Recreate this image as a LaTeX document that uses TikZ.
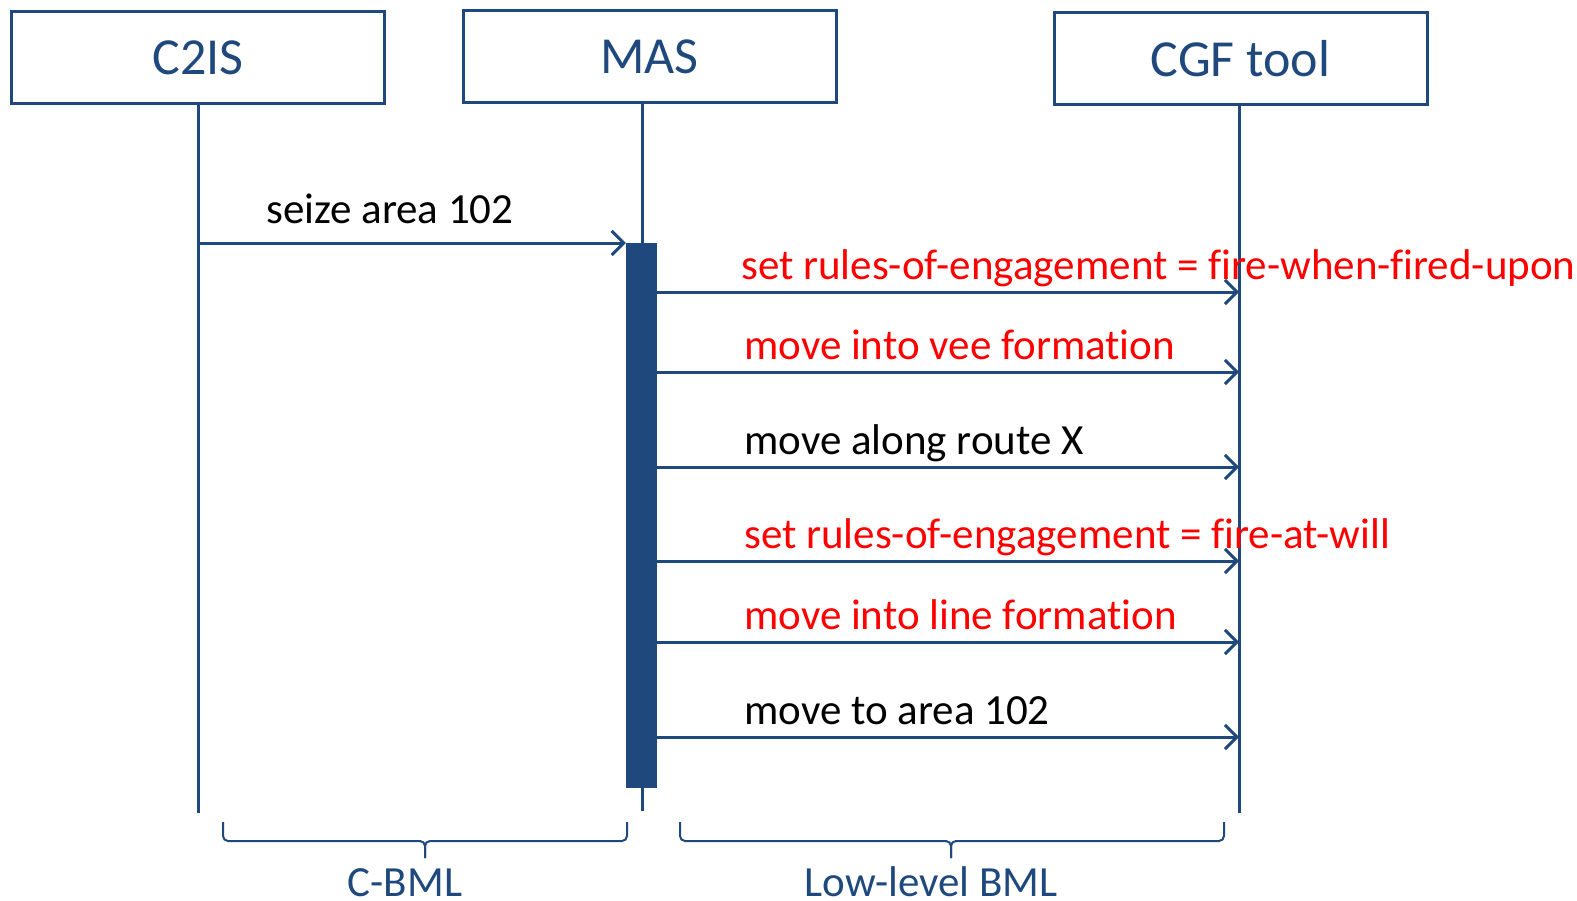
\documentclass[tikz,border=0pt]{standalone}
\usepackage{fontspec}
\setmainfont[Ligatures=NoCommon]{Carlito}
\usetikzlibrary{arrows.meta}
\definecolor{navy}{HTML}{1F497D}
\definecolor{msgred}{HTML}{FF0000}
\begin{document}
\begin{tikzpicture}[x=1pt,y=-1pt,
  actor/.style={draw=navy,line width=3pt,minimum width=373pt,minimum height=92pt,
    inner sep=0pt,text=navy,font=\fontsize{52}{60}\selectfont},
  life/.style={draw=navy,line width=3pt},
  msg/.style={draw=navy,line width=3pt,-{Straight Barb[length=12pt,width=24pt,line width=3pt]}},
  lbl/.style={anchor=base west,inner sep=0pt,font=\fontsize{43}{50}\selectfont},
  grp/.style={draw=navy,line width=2pt,rounded corners=5pt},
  grplbl/.style={anchor=base,inner sep=0pt,text=navy,font=\fontsize{43}{50}\selectfont}]
\useasboundingbox (0,0) rectangle (1577,900);

% participants
\node[actor] (c2is) at (198,57.5) {C2IS};
\node[actor] (mas)  at (649.5,56.5) {MAS};
\node[actor] (cgf)  at (1240.5,58.5) {CGF tool};

% lifelines
\coordinate (c2isT) at (198,104);   \coordinate (c2isB) at (198,813);
\coordinate (masT)  at (642,103);   \coordinate (masB)  at (642,811);
\coordinate (cgfT)  at (1239,105);  \coordinate (cgfB)  at (1239,813);
\draw[life] (c2isT) -- (c2isB);
\draw[life] (masT) -- (masB);
\draw[life] (cgfT) -- (cgfB);

% activation of MAS
\node[fill=navy,inner sep=0pt,minimum width=31pt,minimum height=545pt] (act) at (641.5,515.5) {};

% message rows
\path (0,243) coordinate (r0) (0,292) coordinate (r1) (0,372) coordinate (r2)
      (0,467) coordinate (r3) (0,561) coordinate (r4) (0,642) coordinate (r5)
      (0,737) coordinate (r6);

\draw[msg] (c2isT |- r0) -- (act.west |- r0);
\node[lbl] (t0) at (266,223) {seize area 102};

\draw[msg] (act.east |- r1) -- (cgfT |- r1);
\draw[msg] (act.east |- r2) -- (cgfT |- r2);
\draw[msg] (act.east |- r3) -- (cgfT |- r3);
\draw[msg] (act.east |- r4) -- (cgfT |- r4);
\draw[msg] (act.east |- r5) -- (cgfT |- r5);
\draw[msg] (act.east |- r6) -- (cgfT |- r6);

\node[lbl,text=msgred] (t1) at (741,279) {set rules-of-engagement = fire-when-fired-upon};
\node[lbl,text=msgred] (t2) at (744,359) {move into vee formation};
\node[lbl]             (t3) at (744,454) {move along route X};
\node[lbl,text=msgred] (t4) at (744,548) {set rules-of-engagement = fire-at-will};
\node[lbl,text=msgred] (t5) at (744,629) {move into line formation};
\node[lbl]             (t6) at (744,724) {move to area 102};

% language groupings (braces under the lifelines)
\coordinate (b1a) at (223,822); \coordinate (b1b) at (627,822); \coordinate (b1t) at (425,858);
\coordinate (b2a) at (680,822); \coordinate (b2b) at (1224,822); \coordinate (b2t) at (951,858);
\draw[grp] (b1a) -- ++(0,19) -| (b1t);
\draw[grp] (b1b) -- ++(0,19) -| (b1t);
\draw[grp] (b2a) -- ++(0,19) -| (b2t);
\draw[grp] (b2b) -- ++(0,19) -| (b2t);
\node[grplbl] (g1) at (405,896) {C-BML};
\node[grplbl] (g2) at (931,896) {Low-level BML};
\end{tikzpicture}
\end{document}
